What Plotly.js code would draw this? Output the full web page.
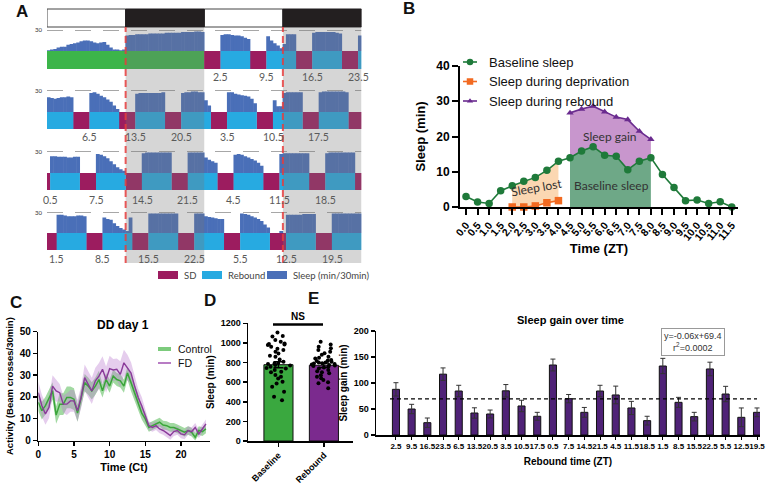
<!DOCTYPE html>
<html><head><meta charset="utf-8">
<script src="https://cdn.plot.ly/plotly-3.0.1.min.js"></script>
<style>html,body{margin:0;padding:0;background:#fff;} #chart{width:780px;height:491px;}</style>
</head><body><div id="chart"></div>
<script>
// ================= DATA =================
// ---- Panel A: sleep per 30-min bin (min/30min), 4 rows of 48 h ----
const aRow1Sleep = [1,2,3,5,6,6,9,10,11,12,14,15,15,14,12,11,12,13,9,5,2,2,1,2,
  22,23,23,24,24,24,24,25,25,25,25,25,26,26,26,26,26,27,27,27,27,28,28,27,
  0,0,0,0,0,23,24,24,23,22,22,21,19,17,0,0,0,0,0,21,15,11,8,4,10,24,24,24,
  0,0,0,0,0,26,27,27,27,27,27,27,26,25,0,0,0,0,0,22];
const aRow2Sleep = [20,19,18,19,20,20,21,20,0,0,0,0,0,26,27,25,22,20,17,14,9,4,0,0,
  0,0,0,25,26,26,26,26,26,26,26,27,0,0,0,0,0,26,27,27,28,28,27,27,16,9,
  0,0,0,0,0,27,27,25,24,23,22,21,18,12,0,0,0,0,0,16,8,8,26,27,27,27,27,27,
  0,0,0,0,0,27,28,28,28,28,28,28,28,27,0,0,0,0];
const aRow3Sleep = [0,23,23,22,22,22,21,21,22,22,0,0,0,0,0,26,25,23,20,16,12,8,5,3,
  0,0,0,0,0,27,28,28,28,28,28,28,28,28,0,0,0,0,0,28,28,28,28,28,21,18,16,14,
  0,0,0,0,0,25,26,25,23,21,19,17,14,10,0,0,0,0,0,26,27,27,27,27,27,27,27,27,
  0,0,0,0,0,27,28,28,28,28,28,28,28,28,0,0];
const aRow4Sleep = [0,0,0,26,26,25,24,24,24,25,25,24,0,0,0,0,0,22,20,19,14,10,7,5,
  3,22,0,0,0,0,0,28,28,28,28,28,28,28,28,28,0,0,0,0,0,28,28,28,
  24,23,22,21,20,20,0,0,0,0,0,28,27,26,24,22,20,17,12,8,0,0,0,3,0,26,
  26,26,26,26,27,27,27,27,0,0,0,0,0,28,28,28,28,28,28,28,28,28];
// schedule segments [start h, end h] within each 48-h row
const aRow1Baseline = [[0,24]];
const aRow1SD = [[24,26.5],[31,33.5],[38,40.5],[45,47.5]];
const aRow1Rebound = [[26.5,31],[33.5,38],[40.5,45],[47.5,48]];
const aRow2SD = [[4,6.5],[11,13.5],[18,20.5],[25,27.5],[32,34.5],[39,41.5],[46,48]];
const aRow2Rebound = [[0,4],[6.5,11],[13.5,18],[20.5,25],[27.5,32],[34.5,39],[41.5,46]];
const aRow3SD = [[0,0.5],[5,7.5],[12,14.5],[19,21.5],[26,28.5],[33,35.5],[40,42.5],[47,48]];
const aRow3Rebound = [[0.5,5],[7.5,12],[14.5,19],[21.5,26],[28.5,33],[35.5,40],[42.5,47]];
const aRow4SD = [[0,1.5],[6,8.5],[13,15.5],[20,22.5],[27,29.5],[34,36.5],[41,43.5]];
const aRow4Rebound = [[1.5,6],[8.5,13],[15.5,20],[22.5,27],[29.5,34],[36.5,41],[43.5,48]];
// rebound-onset labels (ZT) and their time within the row
const aRow1Labels = ['2.5','9.5','16.5','23.5'];
const aRow1LabelPos = [26.5,33.5,40.5,47.5];
const aRow2Labels = ['6.5','13.5','20.5','3.5','10.5','17.5'];
const aRow2LabelPos = [6.5,13.5,20.5,27.5,34.5,41.5];
const aRow3Labels = ['0.5','7.5','14.5','21.5','4.5','11.5','18.5'];
const aRow3LabelPos = [0.5,7.5,14.5,21.5,28.5,35.5,42.5];
const aRow4Labels = ['1.5','8.5','15.5','22.5','5.5','12.5','19.5'];
const aRow4LabelPos = [1.5,8.5,15.5,22.5,29.5,36.5,43.5];
const aLight = [[0,12],[24,36]];
const aDark = [[12,24],[36,48]];
const aLegend = ['SD','Rebound','Sleep (min/30min)'];

// ---- Panel B ----
const bTimes = [0,0.5,1,1.5,2,2.5,3,3.5,4,4.5,5,5.5,6,6.5,7,7.5,8,8.5,9,9.5,10,10.5,11,11.5];
const bBaseline = [3.0,1.4,1.0,4.6,6.0,7.3,8.4,10.4,13.0,14.0,15.9,17.1,14.7,14.4,10.6,13.0,14.0,9.2,5.5,1.8,2.0,1.0,1.5,0.0];
const bDepTimes = [2,2.5,3,3.5,4];
const bDeprivation = [0.0,0.0,0.3,1.2,1.8];
const bRebTimes = [4.5,5,5.5,6,6.5,7,7.5,8];
const bRebound = [26.7,27.8,28.6,27.0,25.5,24.8,21.5,19.2];
const bLegend = ['Baseline sleep','Sleep during deprivation','Sleep during rebound'];

// ---- Panel C ----
const cTimes = [0,0.5,1,1.5,2,2.5,3,3.5,4,4.5,5,5.5,6,6.5,7,7.5,8,8.5,9,9.5,10,10.5,11,11.5,
  12,12.5,13,13.5,14,14.5,15,15.5,16,16.5,17,17.5,18,18.5,19,19.5,20,20.5,21,21.5,22,22.5,23,23.5];
const cControl = [17.5,13.7,16,19.8,22.8,11.7,16.7,16.7,19.8,19.8,19,12.6,19.8,26.6,25,22.8,25,28,22.8,28,25,29.6,28,27.4,
  25,31,26.6,22,17.5,12.6,9.9,6,6.8,7.6,8.4,7.1,6.8,6,6,5.3,4.6,3.8,4.6,3.8,1.5,4.6,4.1,5.3];
const cControlSem = [4,4,4,4,4,4,5,5,5,5,5,4,4,4,4,4,4,4,3,3,3,3,3,3,
  3,3,4,4,4,3,3,2,2,2,2,2,2,2,2,2,2,2,2,2,2,2,2,2];
const cFD = [22,16,12.2,15.2,25,22.8,22,16.7,16.7,18.2,18.2,13.7,19.8,28.9,25.8,22.8,27.4,29.6,32.7,28,33,32.4,32.7,30.4,
  35.7,33.4,31,25,19.8,16,11.4,6.8,6,6.8,5.3,4.6,3.5,2.3,4.1,4.6,3,2.6,4.6,4.1,6,3,5.3,7.6];
const cFDSem = [5,5,5,5,5,5,4,4,5,5,5,5,5,6,6,6,6,6,6,6,6,5,5,6,
  6,6,5,5,4,4,3,2,2,2,2,2,2,2,2,2,2,2,2,2,2,2,2,2];
const cLegend = ['Control','FD'];

// ---- Panel D ----
const dCategories = ['Baseline','Rebound'];
const dMeans = [778, 772];
const dSem = [30, 22];
const dBaselinePoints = [1105,1070,1065,1030,1012,995,989,985,978,961,940,927,910,893,870,859,830,808,795,791,786,774,770,757,745,740,723,706,700,672,654,637,603,586,552,501,450,416];
const dReboundPoints = [1012,985,962,945,928,910,894,880,860,850,840,826,820,815,809,800,800,792,790,785,780,775,770,765,758,750,740,724,710,700,690,670,656,640,622,600,588,537];

// ---- Panel E ----
const eLabels = ['2.5','9.5','16.5','23.5','6.5','13.5','20.5','3.5','10.5','17.5','0.5','7.5','14.5','21.5','4.5','11.5','18.5','1.5','8.5','15.5','22.5','5.5','12.5','19.5'];
const eGain = [87.8,50,23.7,117,84.6,42.3,40.4,85,55.8,36,134.6,69.9,43.6,84.6,77,52,27.6,132.7,62.8,35.3,127,78.8,34,43.6];
const eSem = [12.8,9,9,12,11,10,7.6,12,11,7.6,11.4,8,9.4,11,17,12.7,8.4,14.7,9.6,8.3,13,14.8,18,8.4];
const eFitSlope = -0.06, eFitIntercept = 69.4, eFitR2 = '0.0002';

// ================= BUILD =================
const W = 780, H = 491;
const X = px => px / W;
const Y = py => 1 - py / H;
const FONT = 'Liberation Sans, Arial, sans-serif';
const HUM = 'Lato, Open Sans, sans-serif';

const cSD = '#9c1c5f', cReb = '#27aae1', cBase = '#3cb54a', cSleep = '#4a6fb8';

const rows = [
  {sleep:aRow1Sleep, sd:aRow1SD, reb:aRow1Rebound, base:aRow1Baseline, labels:aRow1Labels, pos:aRow1LabelPos},
  {sleep:aRow2Sleep, sd:aRow2SD, reb:aRow2Rebound, base:[], labels:aRow2Labels, pos:aRow2LabelPos},
  {sleep:aRow3Sleep, sd:aRow3SD, reb:aRow3Rebound, base:[], labels:aRow3Labels, pos:aRow3LabelPos},
  {sleep:aRow4Sleep, sd:aRow4SD, reb:aRow4Rebound, base:[], labels:aRow4Labels, pos:aRow4LabelPos}
];
const rowPx = [[30,51,69,77],[90,112,129,137],[151,173,190,200],[212,233,250,259]];

const traces = [];
const layout = {
  width: W, height: H, margin:{l:0,r:0,t:0,b:0}, paper_bgcolor:'#fff', plot_bgcolor:'rgba(0,0,0,0)',
  showlegend: false, barmode:'overlay', font:{family:FONT, color:'#000'},
  xaxis:{domain:[X(47),X(361.5)], range:[0,48], visible:false, anchor:'y', fixedrange:true},
  // pixel overlay used only for the hand-placed legend keys of B and C
  xaxis6:{domain:[0,1], range:[0,W], visible:false, anchor:'y13', fixedrange:true},
  yaxis13:{domain:[0,1], range:[H,0], visible:false, anchor:'x6', fixedrange:true},
  shapes:[], annotations:[]
};
const ann = o => layout.annotations.push(Object.assign({showarrow:false, xanchor:'center', yanchor:'middle'}, o));

rows.forEach((r, k) => {
  const hy = k===0 ? 'y' : 'y'+(2*k+1);
  const sy = 'y'+(2*k+2);
  const hName = k===0 ? 'yaxis' : 'yaxis'+(2*k+1);
  const sName = 'yaxis'+(2*k+2);
  const p = rowPx[k];
  layout[hName] = {domain:[Y(p[1]),Y(p[0])], range:[0,30], visible:false, anchor:'x', fixedrange:true};
  layout[sName] = {domain:[Y(p[2]),Y(p[1])], range:[0,1], visible:false, anchor:'x', fixedrange:true};
  traces.push({type:'bar', x:r.sleep.map((v,i)=>i*0.5+0.25), y:r.sleep, width:0.58, xaxis:'x', yaxis:hy,
    marker:{color:cSleep, line:{width:0}}, hoverinfo:'skip'});
  [[r.base,cBase],[r.sd,cSD],[r.reb,cReb]].forEach(([segs,col]) => {
    if (!segs.length) return;
    traces.push({type:'bar', x:segs.map(s=>(s[0]+s[1])/2), width:segs.map(s=>s[1]-s[0]+0.04),
      y:segs.map(()=>1), base:0, xaxis:'x', yaxis:sy, marker:{color:col, line:{width:0}}, hoverinfo:'skip'});
  });
  layout.shapes.push({type:'line', xref:'x', yref:hy, x0:0, x1:48, y0:30, y1:30,
    line:{color:'#8a8a8a', width:1.3, dash:'16px,12px'}, layer:'below'});
  ann({xref:'paper', yref:hy, x:X(38), y:30, text:'30', font:{size:6, color:'#333', family:HUM}});
  r.labels.forEach((t,i) => {
    ann({xref:'x', yref:'paper', x:r.pos[i], y:Y(p[3]), text:t, font:{size:10.5, color:'#5a5a5a', family:HUM}});
  });
});

aLight.forEach(s => layout.shapes.push({type:'rect', xref:'x', yref:'paper', x0:s[0], x1:s[1], y0:Y(27), y1:Y(9),
  fillcolor:'#fff', line:{color:'#444', width:1}}));
aDark.forEach(s => layout.shapes.push({type:'rect', xref:'x', yref:'paper', x0:s[0], x1:s[1], y0:Y(27), y1:Y(9),
  fillcolor:'#231f20', line:{color:'#231f20', width:1}}));
aDark.forEach(s => {
  layout.shapes.push({type:'rect', xref:'x', yref:'paper', x0:s[0], x1:s[1], y0:Y(263), y1:Y(27),
    fillcolor:'rgba(120,120,120,0.30)', line:{width:0}, layer:'above'});
  layout.shapes.push({type:'line', xref:'x', yref:'paper', x0:s[0], x1:s[0], y0:Y(263), y1:Y(27),
    line:{color:'rgba(230,60,60,0.85)', width:2, dash:'7px,4px'}, layer:'above'});
});
[[158,cSD,aLegend[0]],[202,cReb,aLegend[1]],[267,cSleep,aLegend[2]]].forEach(([x0,col,txt]) => {
  layout.shapes.push({type:'rect', xref:'paper', yref:'paper', x0:X(x0), x1:X(x0+20), y0:Y(279), y1:Y(271),
    fillcolor:col, line:{width:0}});
  ann({xref:'paper', yref:'paper', x:X(x0+24), y:Y(275), text:txt, xanchor:'left', font:{size:9.5, color:'#444', family:HUM}});
});

// ---------- Panel B ----------
const cGreenB = '#1f7a3a', cOrange = '#f26a21', cPurpleB = '#6a2b8f';
traces.push({x:bDepTimes, y:bBaseline.slice(4,9), xaxis:'x2', yaxis:'y9', mode:'lines', line:{width:0}, hoverinfo:'skip'});
traces.push({x:bDepTimes, y:bDeprivation, xaxis:'x2', yaxis:'y9', mode:'none', fill:'tonexty',
  fillcolor:'rgba(250,208,165,0.85)', hoverinfo:'skip'});
traces.push({x:bRebTimes, y:bBaseline.slice(9,17), xaxis:'x2', yaxis:'y9', mode:'none', fill:'tozeroy',
  fillcolor:'rgb(110,168,135)', hoverinfo:'skip'});
traces.push({x:bRebTimes, y:bRebound, xaxis:'x2', yaxis:'y9', mode:'none', fill:'tonexty',
  fillcolor:'rgb(200,150,205)', hoverinfo:'skip'});
const bSeries = [
  [bTimes, bBaseline, cGreenB, 'circle', 7.5],
  [bDepTimes, bDeprivation, cOrange, 'square', 7.5],
  [bRebTimes, bRebound, cPurpleB, 'triangle-up', 6.5]
];
bSeries.forEach(([xs, ys, col, sym, sz], i) => {
  traces.push({x:xs, y:ys, xaxis:'x2', yaxis:'y9', mode:'lines+markers', name:bLegend[i],
    line:{color:col, width:1.6}, marker:{symbol:sym, size:sz, color:col}, cliponaxis:false});
  // legend key (pixel overlay)
  const ly = 62 + i*19.5;
  traces.push({x:[463,477], y:[ly,ly], xaxis:'x6', yaxis:'y13', mode:'lines', line:{color:col, width:1.6}, hoverinfo:'skip'});
  traces.push({x:[470], y:[ly], xaxis:'x6', yaxis:'y13', mode:'markers', marker:{symbol:sym, size:sz-1, color:col}, hoverinfo:'skip'});
  ann({xref:'paper', yref:'paper', x:X(487), y:Y(ly), text:bLegend[i], xanchor:'left', font:{family:FONT, size:13, color:'#111'}});
});
layout.xaxis2 = {domain:[X(460),X(738)], range:[-0.26,11.77], anchor:'y9', showline:true, linewidth:2, linecolor:'#000',
  ticks:'outside', ticklen:6, tickwidth:2, tickcolor:'#000', tickvals:bTimes, ticktext:bTimes.map(t=>t.toFixed(1)),
  tickangle:-50, tickfont:{family:FONT, size:10.5, weight:'bold', color:'#000'}, showgrid:false, zeroline:false, fixedrange:true,
  title:{text:'Time (ZT)', font:{family:FONT, size:13, weight:'bold', color:'#000'}, standoff:2}};
layout.yaxis9 = {domain:[Y(207),Y(66)], range:[0,40], anchor:'x2', showline:true, linewidth:2, linecolor:'#000',
  ticks:'outside', ticklen:6, tickwidth:2, tickcolor:'#000', dtick:10, tickfont:{family:FONT, size:12, weight:'bold', color:'#000'},
  showgrid:false, zeroline:false, fixedrange:true,
  title:{text:'Sleep (min)', font:{family:FONT, size:13, weight:'bold', color:'#000'}, standoff:8}};
ann({xref:'x2', yref:'y9', x:3.06, y:5.4, text:'Sleep lost', textangle:-10, font:{family:HUM, size:12, color:'#333'}});
ann({xref:'x2', yref:'y9', x:6.23, y:19.9, text:'Sleep gain', font:{family:HUM, size:12, color:'#333'}});
ann({xref:'x2', yref:'y9', x:6.3, y:6, text:'Baseline sleep', font:{family:HUM, size:12, color:'#333'}});

// ---------- Panel C ----------
const cGreen = '#3aa53a', cPurple = '#8a3a9a';
traces.push({x:cTimes, y:cControl.map((v,i)=>v+cControlSem[i]), xaxis:'x3', yaxis:'y10', mode:'lines', line:{width:0}, hoverinfo:'skip'});
traces.push({x:cTimes, y:cControl.map((v,i)=>Math.max(0,v-cControlSem[i])), xaxis:'x3', yaxis:'y10', mode:'lines', line:{width:0},
  fill:'tonexty', fillcolor:'rgba(70,180,70,0.5)', hoverinfo:'skip'});
traces.push({x:cTimes, y:cFD.map((v,i)=>v+cFDSem[i]), xaxis:'x3', yaxis:'y10', mode:'lines', line:{width:0}, hoverinfo:'skip'});
traces.push({x:cTimes, y:cFD.map((v,i)=>Math.max(0,v-cFDSem[i])), xaxis:'x3', yaxis:'y10', mode:'lines', line:{width:0},
  fill:'tonexty', fillcolor:'rgba(190,130,210,0.4)', hoverinfo:'skip'});
traces.push({x:cTimes, y:cControl, xaxis:'x3', yaxis:'y10', mode:'lines', name:cLegend[0], line:{color:cGreen, width:1.5}});
traces.push({x:cTimes, y:cFD, xaxis:'x3', yaxis:'y10', mode:'lines', name:cLegend[1], line:{color:cPurple, width:1.4}});
[[349,'rgba(80,185,80,0.75)',4],[363,'#a050b0',1.5]].forEach(([ly,col,lw],i) => {
  traces.push({x:[158,171], y:[ly,ly], xaxis:'x6', yaxis:'y13', mode:'lines', line:{color:col, width:lw}, hoverinfo:'skip'});
  ann({xref:'paper', yref:'paper', x:X(176), y:Y(ly), text:cLegend[i], xanchor:'left', font:{family:FONT, size:10.5, color:'#111'}});
});
layout.xaxis3 = {domain:[X(38.3),X(209.5)], range:[0,24], anchor:'y10', showline:true, linewidth:1.5, linecolor:'#000',
  ticks:'outside', ticklen:4, tickwidth:1.5, tickcolor:'#000', dtick:5, tickfont:{family:FONT, size:10, weight:'bold'},
  showgrid:false, zeroline:false, fixedrange:true,
  title:{text:'Time (Ct)', font:{family:FONT, size:11, weight:'bold'}, standoff:4}};
layout.yaxis10 = {domain:[Y(440.5),Y(331.7)], range:[0,50], anchor:'x3', showline:true, linewidth:1.5, linecolor:'#000',
  ticks:'outside', ticklen:4, tickwidth:1.5, tickcolor:'#000', dtick:10, tickfont:{family:FONT, size:10, weight:'bold'},
  showgrid:false, zeroline:false, fixedrange:true,
  title:{text:'Activity (Beam crosses/30min)', font:{family:FONT, size:9.5, weight:'bold'}, standoff:4}};
ann({xref:'paper', yref:'paper', x:X(123), y:Y(325), text:'DD day 1', font:{family:FONT, size:12, weight:'bold'}});

// ---------- Panel D ----------
traces.push({type:'bar', x:dCategories, y:dMeans, width:0.64, xaxis:'x4', yaxis:'y11',
  marker:{color:['#3aa83f','#7b2a8e'], line:{color:'#111', width:1}},
  error_y:{type:'data', array:dSem, color:'#000', thickness:1.5, width:5}, hoverinfo:'skip'});
traces.push({type:'box', x:dBaselinePoints.map(()=>dCategories[0]).concat(dReboundPoints.map(()=>dCategories[1])),
  y:dBaselinePoints.concat(dReboundPoints), xaxis:'x4', yaxis:'y11', boxpoints:'all', jitter:1, pointpos:0, width:0.6,
  fillcolor:'rgba(0,0,0,0)', line:{width:0, color:'rgba(0,0,0,0)'}, whiskerwidth:0,
  marker:{color:'#000', size:4}, hoverinfo:'skip'});
layout.xaxis4 = {domain:[X(248),X(353)], type:'category', range:[-0.67,1.64], anchor:'y11', showline:true, linewidth:1.5,
  linecolor:'#000', ticks:'outside', ticklen:4, tickwidth:1.5, tickcolor:'#000', tickangle:-45,
  tickfont:{family:FONT, size:9, weight:'bold'}, showgrid:false, zeroline:false, fixedrange:true};
layout.yaxis11 = {domain:[Y(441),Y(323.3)], range:[0,1200], anchor:'x4', showline:true, linewidth:1.5, linecolor:'#000',
  ticks:'outside', ticklen:4, tickwidth:1.5, tickcolor:'#000', dtick:200, tickfont:{family:FONT, size:9, weight:'bold'},
  showgrid:false, zeroline:false, fixedrange:true,
  title:{text:'Sleep (min)', font:{family:FONT, size:10, weight:'bold'}, standoff:4}};
layout.shapes.push({type:'line', xref:'x4', yref:'y11', x0:-0.12, x1:0.98, y0:1190, y1:1190, line:{color:'#000', width:3}});
ann({xref:'x4', yref:'y11', x:0.43, y:1195, text:'NS', yanchor:'bottom', font:{family:FONT, size:10, weight:'bold'}});

// ---------- Panel E ----------
traces.push({type:'bar', x:eLabels, y:eGain, width:0.45, xaxis:'x5', yaxis:'y12',
  marker:{color:'#4f2277', line:{color:'#111', width:1}},
  error_y:{type:'data', array:eSem, color:'#333', thickness:1, width:2.5}, hoverinfo:'skip'});
layout.xaxis5 = {domain:[X(376),X(760)], type:'category', range:[-1.27,23.19], anchor:'y12', showline:true, linewidth:1.5,
  linecolor:'#000', ticks:'outside', ticklen:3, tickwidth:1, tickcolor:'#000', tickangle:0,
  tickfont:{family:FONT, size:8, weight:'bold'}, showgrid:false, zeroline:false, fixedrange:true,
  title:{text:'Rebound time (ZT)', font:{family:FONT, size:10, weight:'bold'}, standoff:8}};
layout.yaxis12 = {domain:[Y(435),Y(331)], range:[0,200], anchor:'x5', showline:true, linewidth:1.5, linecolor:'#000',
  ticks:'outside', ticklen:4, tickwidth:1.5, tickcolor:'#000', dtick:50, tickfont:{family:FONT, size:9, weight:'bold'},
  showgrid:false, zeroline:false, fixedrange:true,
  title:{text:'Sleep gain (min)', font:{family:FONT, size:10, weight:'bold'}, standoff:4}};
layout.shapes.push({type:'line', xref:'x5', yref:'y12', x0:-0.38, x1:23, y0:eFitIntercept, y1:eFitIntercept,
  line:{color:'#000', width:1.2, dash:'4px,3px'}});
ann({xref:'paper', yref:'paper', x:X(570), y:Y(320), text:'Sleep gain over time', font:{family:FONT, size:11, weight:'bold'}});
ann({xref:'paper', yref:'paper', x:X(693), y:Y(342),
  text:'y='+eFitSlope.toFixed(2)+'x+'+eFitIntercept+'<br>r<sup>2</sup>='+eFitR2, align:'center',
  bordercolor:'#999', borderwidth:1, borderpad:2, bgcolor:'#fff', font:{family:FONT, size:9, color:'#333'}});

// ---------- panel letters ----------
[['A',22,12],['B',409,9],['C',16,302],['D',210,300],['E',313,298]].forEach(([t,x,y]) => {
  ann({xref:'paper', yref:'paper', x:X(x), y:Y(y), text:t, font:{family:FONT, size:17, weight:'bold', color:'#111'}});
});

Plotly.newPlot('chart', traces, layout, {displayModeBar:false, staticPlot:true});
</script></body></html>
